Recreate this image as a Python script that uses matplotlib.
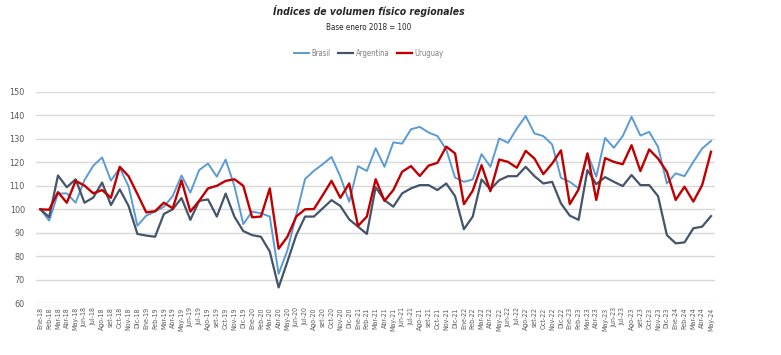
import matplotlib.pyplot as plt

meses = ['Ene', 'Feb', 'Mar', 'Abr', 'May', 'Jun', 'Jul', 'Ago', 'set', 'Oct', 'Nov', 'Dic']
labels = []
for anio in range(18, 25):
    for m in meses:
        labels.append(f'{m}-{anio}')
labels = labels[:77]  # Ene-18 .. May-24

brasil = [100, 95.2, 106.7, 106.8, 102.8, 112.4, 118.6, 122.1, 112.2, 117.6, 109.8, 93, 97.3, 99,
          101.1, 105.6, 114.4, 107.1, 116.7, 119.5, 113.9, 121.2, 109.8, 93.7, 99, 98.3, 96.9, 72.5,
          82.5, 97.6, 112.9, 116.4, 119.2, 122.3, 113.9, 103.2, 118.4, 116.3, 126, 118.1, 128.5, 128,
          134.1, 135.1, 132.7, 131.2, 125.5, 113.5, 111.7, 112.7, 123.5, 118.1, 130.2, 128.3, 134.4,
          139.7, 132.3, 131.2, 127.6, 113.4, 111.7, 108.9, 123.8, 113.9, 130.4, 126.2, 131.2, 139.4,
          131.4, 133, 126.6, 111, 115.3, 114.1, 120.2, 125.9, 129.1]
argentina = [100, 96.7, 114.4, 109.4, 112.8, 102.8, 105, 111.4, 101.8, 108.5, 101.4, 89.5, 88.8, 88.3,
             98, 100, 104.8, 95.5, 103.6, 104.2, 96.9, 106.7, 96.8, 90.7, 89, 88.3, 82, 66.7, 77.7,
             89, 96.9, 96.9, 100.4, 103.9, 101.4, 95.7, 92.6, 89.5, 109.4, 103.9, 101.1, 106.8, 108.9,
             110.3, 110.3, 108.2, 111, 105.6, 91.5, 96.9, 112.7, 108.5, 112.4, 114.1, 114.1, 118.1,
             114.1, 111, 111.7, 102.5, 97.3, 95.5, 116.7, 110.7, 113.7, 111.7, 109.9, 114.6, 110.3,
             110.3, 105.6, 89, 85.5, 85.9, 91.9, 92.6, 97.1]
uruguay = [100, 99.8, 107.3, 102.8, 112.1, 110.1, 106.8, 108.2, 104.9, 118.1, 114.1, 106.5, 98.7, 99.2,
           102.8, 100.4, 112.3, 99, 103.6, 108.9, 110, 112.1, 112.8, 110, 96.6, 96.9, 108.9, 83.2, 88.3,
           96.9, 100, 100.1, 106, 112.1, 104.9, 111, 92.9, 96.9, 112.8, 103.6, 108.2, 116, 118.4,
           114.2, 118.6, 119.8, 126.7, 123.8, 102.2, 107.9, 118.8, 107.7, 121.2, 120.2, 117.7, 124.9,
           121.6, 115, 119.5, 125.1, 102.2, 108.5, 123.8, 104, 121.8, 120.2, 119.2, 127.3, 116.3,
           125.5, 121.6, 116, 104, 109.6, 103.3, 110.3, 124.5]

plt.rcParams['font.family'] = ['Liberation Sans Narrow', 'DejaVu Sans']
plt.rcParams['font.stretch'] = 'condensed'

fig = plt.figure(figsize=(7.81, 3.55), dpi=100)
ax = fig.add_axes([0.046, 0.146, 0.870, 0.595])

x = list(range(len(labels)))
ax.plot(x, brasil, color='#5B9BD5', lw=1.4, label='Brasil')
ax.plot(x, argentina, color='#44546A', lw=1.6, label='Argentina')
ax.plot(x, uruguay, color='#C00000', lw=1.7, label='Uruguay')

ax.set_xlim(-0.5, len(labels) - 0.5)
ax.set_ylim(60, 150)
ax.set_yticks(range(60, 151, 10))
ax.set_xticks(x)
ax.set_xticklabels(labels, rotation=90, fontsize=5, color='#595959')
ax.tick_params(axis='y', labelsize=6.5, labelcolor='#595959', length=0, pad=8)
ax.tick_params(axis='x', length=0, pad=3)
ax.grid(axis='y', color='#D9D9D9', lw=1)
ax.set_axisbelow(True)
for s in ax.spines.values():
    s.set_visible(False)

fig.text(0.472, 0.985, 'Índices de volumen físico regionales', ha='center', va='top',
         fontsize=7.5, fontweight='bold', style='italic', color='#262626')
fig.text(0.472, 0.935, 'Base enero 2018 = 100', ha='center', va='top', fontsize=5.8, color='#262626')

fig.legend(loc='center', bbox_to_anchor=(0.472, 0.85), ncol=3, frameon=False, fontsize=5.5,
           labelcolor='#808080', handlelength=2.0, columnspacing=1.0, handletextpad=0.3)

fig.savefig('out.png', dpi=100)
